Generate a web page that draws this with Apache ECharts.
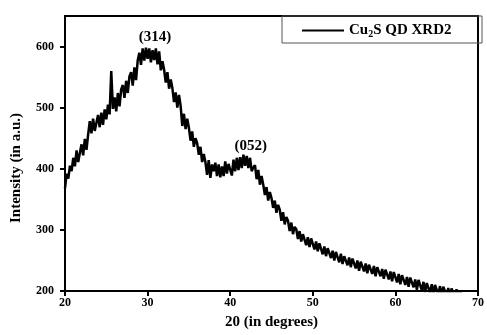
<!DOCTYPE html>
<html>
<head>
<meta charset="utf-8">
<script src="https://cdn.jsdelivr.net/npm/echarts@6/dist/echarts.min.js"></script>
<style>
  html, body { margin: 0; padding: 0; background: #fff; }
  #chart { width: 487px; height: 335px; }
</style>
</head>
<body>
<div id="chart"></div>
<script>
// scan grid: 2theta from 20 to 68 deg, 0.2 deg step
let scanStart = 20;
let scanStep = 0.2;
// intensity (a.u.), 5 points per degree
let intensity = [
    368, 392, 384, 405, 396,  // 20
    418, 404, 430, 411, 426,  // 21
    440, 422, 449, 431, 456,  // 22
    478, 458, 482, 462, 475,  // 23
    488, 468, 492, 472, 497,  // 24
    481, 505, 489, 560, 498,  // 25
    517, 494, 524, 502, 530,  // 26
    537, 516, 544, 524, 551,  // 27
    558, 536, 566, 545, 577,  // 28
    590, 570, 597, 577, 598,  // 29
    580, 597, 574, 594, 578,  // 30
    597, 571, 592, 561, 576,  // 31
    562, 541, 558, 531, 546,  // 32
    532, 509, 525, 500, 521,  // 33
    503, 470, 490, 465, 482,  // 34
    467, 446, 461, 436, 450,  // 35
    442, 423, 436, 411, 424,  // 36
    411, 390, 414, 385, 407,  // 37
    396, 410, 388, 407, 386,  // 38
    404, 388, 412, 392, 408,  // 39
    411, 389, 415, 396, 418,  // 40
    398, 419, 401, 423, 405,  // 41
    421, 401, 418, 396, 402,  // 42
    406, 383, 398, 374, 388,  // 43
    374, 357, 370, 348, 362,  // 44
    352, 336, 348, 328, 341,  // 45
    333, 315, 329, 309, 321,  // 46
    315, 298, 312, 293, 305,  // 47
    301, 285, 298, 281, 293,  // 48
    291, 275, 288, 272, 286,  // 49
    283, 268, 281, 265, 278,  // 50
    276, 260, 273, 257, 270,  // 51
    268, 254, 266, 250, 264,  // 52
    262, 247, 261, 244, 257,  // 53
    258, 242, 255, 239, 253,  // 54
    252, 237, 250, 233, 248,  // 55
    250, 232, 245, 229, 243,  // 56
    244, 228, 241, 224, 239,  // 57
    240, 224, 236, 220, 235,  // 58
    236, 219, 232, 216, 231,  // 59
    231, 214, 228, 211, 226,  // 60
    226, 210, 223, 207, 222,  // 61
    222, 206, 219, 202, 218,  // 62
    218, 201, 215, 198, 213,  // 63
    214, 197, 211, 194, 210,  // 64
    211, 194, 208, 191, 207,  // 65
    208, 192, 205, 189, 204,  // 66
    206, 190, 203, 187, 201,  // 67
    194                       // 68
];
// peak labels (hkl) and where they sit
let peakNames = ['(314)', '(052)'];
let peakPos = [[30.9, 616], [42.5, 437]];

let xTicks = [20, 30, 40, 50, 60, 70];
let yTicks = [200, 300, 400, 500, 600];

let serif = '"Liberation Serif", "Times New Roman", serif';

let xrdData = intensity.map((v, i) => [+(scanStart + i * scanStep).toFixed(2), v]);

let chart = echarts.init(document.getElementById('chart'));
chart.setOption({
    animation: false,
    grid: {
        left: 65, right: 5, top: 16, bottom: 42,
        show: true, borderColor: '#000', borderWidth: 2
    },
    legend: {
        left: 302, top: 23, padding: 0,
        icon: 'rect', itemWidth: 42, itemHeight: 2,
        data: ['xrd'],
        formatter: () => '{a|Cu}{s|2}{a|S QD XRD2}',
        textStyle: {
            rich: {
                a: { fontFamily: serif, fontWeight: 'bold', fontSize: 15, color: '#000' },
                s: { fontFamily: serif, fontWeight: 'bold', fontSize: 10, color: '#000', verticalAlign: 'bottom', padding: [8, 0, 0, 0] }
            }
        }
    },
    graphic: [{
        type: 'rect',
        shape: { x: 282, y: 16, width: 200, height: 27 },
        style: { fill: 'none', stroke: '#555', lineWidth: 1 },
        z: 10
    }, {
        type: 'text',
        x: 16, y: 168, rotation: Math.PI / 2,
        style: {
            text: 'Intensity (in a.u.)', align: 'center', verticalAlign: 'middle',
            font: 'bold 15px ' + serif, fill: '#000'
        }
    }],
    xAxis: {
        type: 'value', min: xTicks[0], max: xTicks[xTicks.length - 1], interval: 10,
        name: '20 (in degrees)', nameLocation: 'middle', nameGap: 24,
        nameTextStyle: { fontFamily: serif, fontWeight: 'bold', fontSize: 15, color: '#000' },
        axisLine: { lineStyle: { color: '#000', width: 2 } },
        axisTick: { length: 5, lineStyle: { width: 2, color: '#000' } },
        axisLabel: { fontFamily: serif, fontWeight: 'bold', fontSize: 12, color: '#000', margin: 6 },
        splitLine: { show: false }
    },
    yAxis: {
        type: 'value', min: yTicks[0], max: 650, interval: 100,
        axisLine: { show: true, lineStyle: { color: '#000', width: 2 } },
        axisTick: { show: true, length: 5, lineStyle: { width: 2, color: '#000' } },
        axisLabel: {
            fontFamily: serif, fontWeight: 'bold', fontSize: 12, color: '#000', margin: 11,
            showMaxLabel: false,
            formatter: v => (yTicks.includes(v) ? v : '')
        },
        splitLine: { show: false }
    },
    series: [{
        name: 'xrd',
        type: 'line',
        data: xrdData,
        showSymbol: false,
        symbol: 'none',
        clip: true,
        lineStyle: { color: '#000', width: 2.5 },
        itemStyle: { color: '#000' },
        markPoint: {
            symbol: 'circle', symbolSize: 0,
            label: {
                show: true, position: 'inside',
                fontFamily: serif, fontWeight: 'bold', fontSize: 15, color: '#000',
                formatter: p => p.name
            },
            data: peakNames.map((n, i) => ({ name: n, coord: peakPos[i] }))
        }
    }]
});
</script>
</body>
</html>
